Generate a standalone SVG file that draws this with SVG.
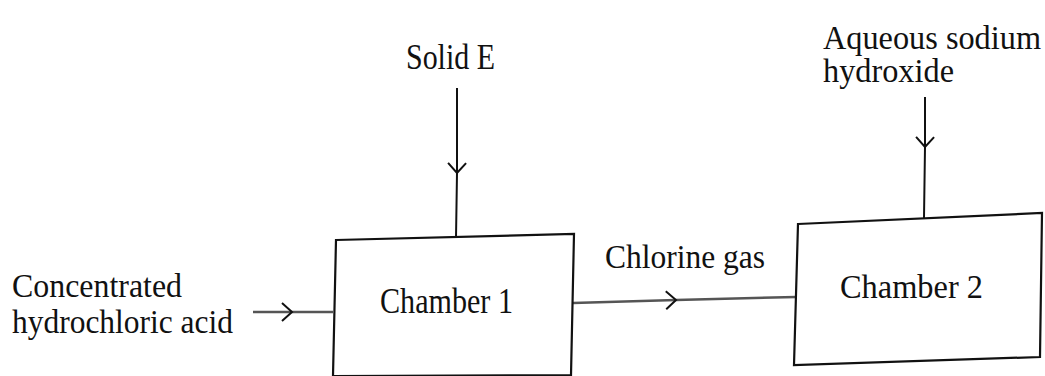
<svg xmlns="http://www.w3.org/2000/svg" width="1045" height="376" viewBox="0 0 1045 376">
<style>
.lbl{font-family:"Liberation Serif","Times New Roman",serif;font-size:33px;fill:#111}
.big{font-size:36px}
.box{fill:#fff;stroke:#111;stroke-width:2.2}
.ln{fill:none;stroke:#111;stroke-width:2}
.hl{fill:none;stroke:#555;stroke-width:2.5}
</style>
<defs>
<marker id="chev" markerUnits="userSpaceOnUse" markerWidth="14" markerHeight="22" refX="11" refY="10" orient="auto" viewBox="0 0 14 22">
<path d="M1,1 L11,10 L1,19" fill="none" stroke="#111" stroke-width="2"/>
</marker>
</defs>
<rect width="1045" height="376" fill="#fff"/>
<g id="connectors">
<polyline class="ln" points="457,88 457,173 456,238" marker-mid="url(#chev)"/>
<polyline class="ln" points="925,97 925,147 924,218" marker-mid="url(#chev)"/>
<polyline class="hl" points="253,312 292,312 333,312" marker-mid="url(#chev)"/>
<polyline class="hl" points="573,303 676,300 796,297" marker-mid="url(#chev)"/>
</g>
<g id="chamber1">
<polygon class="box" points="336,240 574,234 571,375 333,376"/>
<text class="lbl big" x="380" y="313" textLength="133" lengthAdjust="spacingAndGlyphs">Chamber 1</text>
</g>
<g id="chamber2">
<polygon class="box" points="798,224 1042,213 1040,357 794,365"/>
<text class="lbl" x="840" y="298" textLength="143" lengthAdjust="spacingAndGlyphs">Chamber 2</text>
</g>
<g id="solidE">
<text class="lbl big" x="406" y="69" textLength="89" lengthAdjust="spacingAndGlyphs">Solid E</text>
</g>
<g id="naoh">
<text class="lbl" x="823" y="49" textLength="218" lengthAdjust="spacingAndGlyphs">Aqueous sodium</text>
<text class="lbl" x="823" y="82" textLength="131" lengthAdjust="spacingAndGlyphs">hydroxide</text>
</g>
<g id="hcl">
<text class="lbl" x="12" y="297" textLength="170" lengthAdjust="spacingAndGlyphs">Concentrated</text>
<text class="lbl" x="12" y="333" textLength="221" lengthAdjust="spacingAndGlyphs">hydrochloric acid</text>
</g>
<g id="chlorine">
<text class="lbl" x="605" y="268" textLength="160" lengthAdjust="spacingAndGlyphs">Chlorine gas</text>
</g>
</svg>
